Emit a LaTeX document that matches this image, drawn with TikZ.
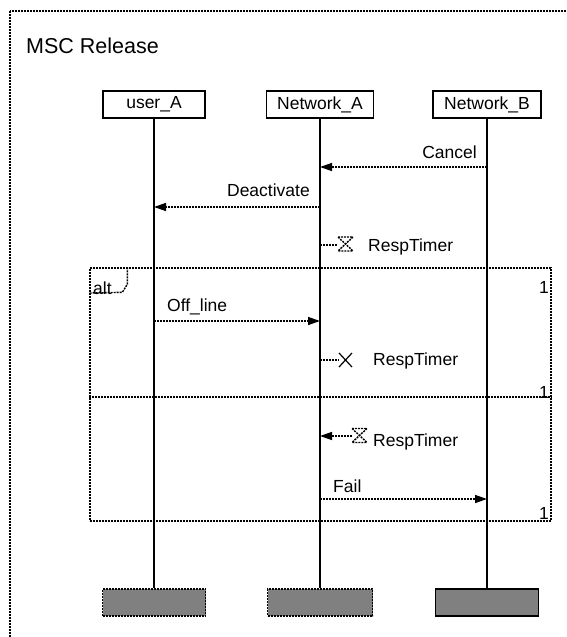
\documentclass[tikz,border=0pt]{standalone}
\usepackage{fontspec}
\setmainfont{Liberation Sans}
\usetikzlibrary{arrows.meta}

\tikzset{
	inst/.style={draw, line width=1.5pt, minimum height=27pt, inner sep=0pt, font=\fontsize{17.5}{20}\selectfont},
	endbox/.style={draw, line width=1.5pt, fill=gray, minimum height=27pt, inner sep=0pt},
	life/.style={line width=2pt},
	dots/.style={line width=1.4pt, dash pattern=on 2pt off 1pt},
	msg/.style={dots, -{Triangle[length=12pt,width=8pt]}},
	lbl/.style={inner sep=0pt, font=\fontsize{17.5}{20}\selectfont},
	hourglass/.pic={\draw[dots] (-7.5,-7) -- (7.5,-7) -- (-7.5,7) -- (7.5,7) -- cycle;},
	stopx/.pic={\draw[line width=1.2pt] (-6.5,-7) -- (6.5,7) (-6.5,7) -- (6.5,-7);}
}

\begin{document}
\begin{tikzpicture}[x=1pt,y=-1pt]
			\useasboundingbox (0,0) rectangle (566,637);
			\draw[dots] (10,11) rectangle (600,680);
			\node[lbl, anchor=west, font=\fontsize{21.5}{25}\selectfont] (title) at (26,46) {MSC Release};
			\node[inst, minimum width=102pt] (uA) at (154,104.5) {user\_A};
			\node[inst, minimum width=107pt] (nA) at (320,104.5) {Network\_A};
			\node[inst, minimum width=108pt] (nB) at (487,104.5) {Network\_B};
			\node[endbox, dots, line width=1.6pt, minimum width=103pt] (uAe) at (154,602.5) {};
			\node[endbox, dots, line width=1.6pt, minimum width=105pt] (nAe) at (320,602.5) {};
			\node[endbox, minimum width=103pt] (nBe) at (487,602.5) {};
			\node[draw, dots, inner sep=0pt, minimum width=461pt, minimum height=253pt] (alt) at (320.5,394.5) {};
			\draw[dots] ([xshift=38pt]alt.north west) -- ++(0,17) -- ++(-5,8) -- (alt.west |- 0,293);
			\draw[dots] (alt.west |- 0,397) -- (alt.east |- 0,397);
			\node[lbl, anchor=west] (altlbl) at (93,288) {alt};
			\node[lbl, anchor=east] (one1) at (549,287) {1};
			\node[lbl, anchor=east] (one2) at (549,392) {1};
			\node[lbl, anchor=east] (one3) at (549,513) {1};
			\draw[life] (uA) -- (uAe);
			\draw[life] (nA) -- (nAe);
			\draw[life] (nB) -- (nBe);
			\draw[msg] (nB |- 0,167) -- (nA |- 0,167);
			\node[lbl, anchor=east] (cancel) at (477,152) {Cancel};
			\draw[msg] (nA |- 0,207) -- (uA |- 0,207);
			\node[lbl, anchor=east] (deact) at (310,190) {Deactivate};
			\coordinate (t1) at (338,245);
			\draw[dots] (nA |- t1) -- (t1);
			\pic at (345.5,244) {hourglass};
			\node[lbl, anchor=west] (rt1) at (368,247) {RespTimer};
			\draw[msg] (uA |- 0,321) -- (nA |- 0,321);
			\node[lbl, anchor=west] (offl) at (167,307) {Off\_line};
			\coordinate (t2) at (339,360);
			\draw[dots] (nA |- t2) -- (t2);
			\pic at (345.5,360) {stopx};
			\node[lbl, anchor=west] (rt2) at (373,361) {RespTimer};
			\coordinate (t3) at (352,436);
			\draw[msg] (t3) -- (nA |- t3);
			\pic at (359.5,435.5) {hourglass};
			\node[lbl, anchor=west] (rt3) at (373,442) {RespTimer};
			\draw[msg] (nA |- 0,499) -- (nB |- 0,499);
			\node[lbl, anchor=west] (fail) at (333,486) {Fail};
		\end{tikzpicture}
\end{document}
